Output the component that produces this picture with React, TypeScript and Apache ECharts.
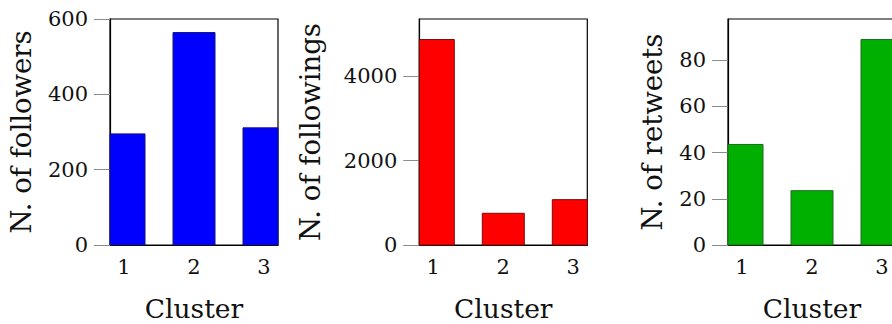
import React, { useEffect, useRef } from "react";
import * as echarts from "echarts";

// Cluster indices shown on every panel
const clusters = [1, 2, 3];

// Per-cluster averages
const followers = [295, 564, 311];
const followings = [4870, 752, 1075];
const retweets = [43.5, 23.5, 88.9];

// Y tick labels per panel
const followerTicks = [0, 200, 400, 600];
const followingTicks = [0, 2000, 4000];
const retweetTicks = [0, 20, 40, 60, 80];

const yTitles = ["N. of followers", "N. of followings", "N. of retweets"];
const xTitle = "Cluster";

const FONT = "DejaVu Serif";
const TEXT = "#111";

export default function App() {
  const ref = useRef<HTMLDivElement>(null);

  useEffect(() => {
    if (!ref.current) return;
    const chart = echarts.init(ref.current, null, { renderer: "svg" });

    const xMin = 0.8;
    const xMax = 3.2;
    const halfBar = 0.3; // bar half-width in axis units
    const plotW = 168;
    const plotH = 226;
    const top = 19;
    const lefts = [110, 419.3, 728];

    const panels = [
      { data: followers, ticks: followerTicks, max: 600, fill: "#0000ff", edge: "#14147a", gap: 75 },
      { data: followings, ticks: followingTicks, max: Math.max(...followings) * 1.1, fill: "#ff0000", edge: "#7a0a0a", gap: 95 },
      { data: retweets, ticks: retweetTicks, max: Math.max(...retweets) * 1.1, fill: "#00b000", edge: "#1c6a1c", gap: 62 },
    ];

    // Bars drawn as rects and clipped to the plot frame
    const makeRenderItem = (fill: string, edge: string) => (params: any, api: any) => {
      const x = api.value(0);
      const y = api.value(1);
      const p0 = api.coord([x - halfBar, 0]);
      const p1 = api.coord([x + halfBar, y]);
      const cs = params.coordSys;
      const shape = echarts.graphic.clipRectByRect(
        { x: p0[0], y: p1[1], width: p1[0] - p0[0], height: p0[1] - p1[1] },
        { x: cs.x, y: cs.y, width: cs.width, height: cs.height }
      );
      if (!shape) return null;
      return {
        type: "rect",
        shape,
        style: { fill, stroke: edge, lineWidth: 1 },
      };
    };

    const frameLine = { show: true, lineStyle: { color: "#000", width: 1.2 } };

    const option: any = {
      animation: false,
      backgroundColor: "#fff",
      grid: panels.map((_, i) => ({
        left: lefts[i],
        top,
        width: plotW,
        height: plotH,
        outerBoundsMode: "none",
        containLabel: false,
        show: true,
        borderColor: "#000",
        borderWidth: 1.2,
        backgroundColor: "transparent",
      })),
      xAxis: panels.map((_, i) => ({
        type: "value",
        gridIndex: i,
        min: xMin,
        max: xMax,
        axisLine: frameLine,
        axisTick: { show: false },
        splitLine: { show: false },
        axisLabel: {
          customValues: clusters,
          margin: 11,
          fontFamily: FONT,
          fontSize: 21,
          color: TEXT,
        },
        name: xTitle,
        nameLocation: "middle",
        nameGap: 53,
        nameTextStyle: { fontFamily: FONT, fontSize: 26.5, lineHeight: 20, color: TEXT },
      })),
      yAxis: panels.map((p, i) => ({
        type: "value",
        gridIndex: i,
        min: 0,
        max: p.max,
        axisLine: frameLine,
        splitLine: { show: false },
        axisTick: {
          show: true,
          inside: false,
          customValues: p.ticks,
          length: 16,
          lineStyle: { color: "#8a8a8a", width: 1 },
        },
        axisLabel: {
          customValues: p.ticks,
          margin: 22,
          fontFamily: FONT,
          fontSize: 21,
          color: TEXT,
          formatter: (v: number) => String(v),
        },
        name: yTitles[i],
        nameLocation: "middle",
        nameGap: p.gap,
        nameRotate: 90,
        nameTextStyle: { fontFamily: FONT, fontSize: 27.5, color: TEXT },
      })),
      series: panels.map((p, i) => ({
        type: "custom",
        xAxisIndex: i,
        yAxisIndex: i,
        encode: { x: 0, y: 1 },
        data: clusters.map((c, k) => [c, p.data[k]]),
        renderItem: makeRenderItem(p.fill, p.edge),
        z: 3,
      })),
    };

    chart.setOption(option);
    return () => chart.dispose();
  }, []);

  return (
    <div
      ref={ref}
      style={{ position: "absolute", left: 0, top: 0, width: 892, height: 324 }}
    />
  );
}
